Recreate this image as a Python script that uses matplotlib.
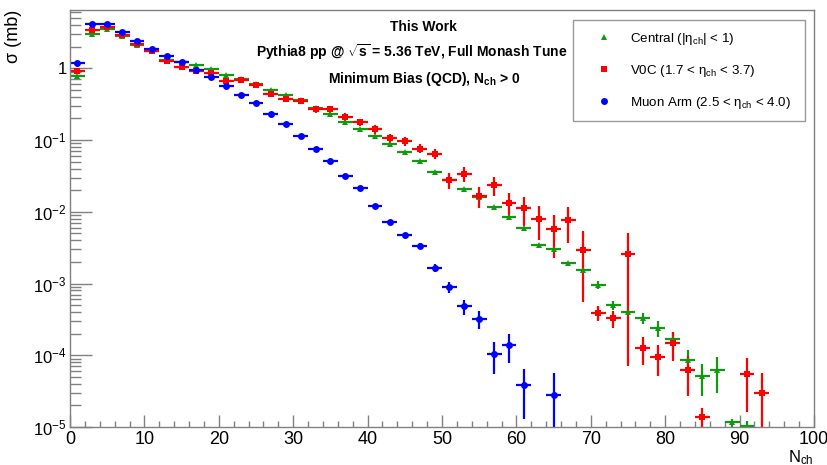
import numpy as np
import matplotlib.pyplot as plt
from matplotlib.ticker import MultipleLocator, LogLocator, FuncFormatter, NullFormatter
from matplotlib.lines import Line2D

plt.rcParams['font.family'] = ['Liberation Sans', 'DejaVu Sans']
plt.rcParams['mathtext.fontset'] = 'custom'
plt.rcParams['mathtext.rm'] = 'Liberation Sans'
plt.rcParams['mathtext.it'] = 'Liberation Sans:italic'
plt.rcParams['mathtext.bf'] = 'Liberation Sans:bold'

# bin centres (bin width 2 in N_ch)
nch = np.arange(1, 94, 2)
nan = np.nan

# Central (|eta| < 1)
central = [0.79, 3.0, 3.53, 2.8, 2.11, 1.76, 1.32, 1.24, 1.10, 0.97,
           0.81, 0.70, 0.60, 0.50, 0.425, 0.36, 0.283, 0.231, 0.181, 0.144,
           0.114, 0.0883, 0.0676, 0.0516, 0.0360, 0.0275, 0.0208, 0.0163, 0.0116, 0.00857,
           0.00603, 0.00346, 0.00304, 0.00192, 0.00155, 0.00096, 4.94e-4, 4.0e-4, 3.3e-4, 2.39e-4,
           1.68e-4, 8.65e-5, 5.07e-5, 6.3e-5, 1.16e-5, 1.02e-5, nan]
central_err = [0.005, 0.01, 0.01, 0.01, 0.008, 0.007, 0.006, 0.006, 0.005, 0.005,
               0.005, 0.004, 0.004, 0.004, 0.003, 0.003, 0.003, 0.002, 0.002, 0.002,
               0.0015, 0.0012, 0.001, 0.0009, 0.0007, 0.0006, 0.0005, 0.0004, 0.0003, 0.00025,
               0.0002, 0.00015, 0.00014, 0.0001, 0.0001, 1.2e-4, 7e-5, 4e-5, 6e-5, 5.8e-5,
               4.5e-5, 3.1e-5, 2.4e-5, 3.3e-5, 1.5e-6, 2e-6, nan]

# V0C (1.7 < eta < 3.7)
v0c = [0.92, 3.42, 3.8, 2.91, 2.16, 1.76, 1.26, 1.03, 0.93, 0.87,
       0.67, 0.69, 0.585, 0.44, 0.373, 0.354, 0.271, 0.268, 0.208, 0.177,
       0.143, 0.106, 0.097, 0.076, 0.0646, 0.0278, 0.034, 0.0168, 0.0237, 0.0134,
       0.0113, 0.0080, 0.0057, 0.0077, 0.00295, 3.9e-4, 3.3e-4, 0.00257, 1.28e-4, 9.6e-5,
       1.48e-4, 6.2e-5, 1.4e-5, nan, nan, 5.4e-5, 3.0e-5]
v0c_err = [0.02, 0.05, 0.05, 0.05, 0.04, 0.04, 0.035, 0.03, 0.03, 0.03,
           0.03, 0.03, 0.03, 0.03, 0.03, 0.03, 0.03, 0.035, 0.03, 0.022,
           0.02, 0.017, 0.014, 0.011, 0.0094, 0.007, 0.008, 0.0055, 0.007, 0.005,
           0.005, 0.004, 0.0034, 0.004, 0.0024, 9e-5, 9e-5, 0.0025, 5.4e-5, 4.5e-5,
           6.5e-5, 3.5e-5, 4.5e-6, nan, nan, 3.8e-5, 2.7e-5]

# Muon Arm (2.5 < eta < 4.0)
muon = [1.2, 4.1, 4.2, 3.17, 2.4, 1.86, 1.5, 1.21, 0.95, 0.76,
        0.57, 0.43, 0.326, 0.23, 0.168, 0.113, 0.0745, 0.0512, 0.0319, 0.0213,
        0.0121, 0.0073, 0.00472, 0.00332, 0.00166, 8.9e-4, 4.8e-4, 3.2e-4, 1.05e-4, 1.37e-4,
        3.9e-5, nan, 2.8e-5, nan, nan, nan, nan, nan, nan, nan,
        nan, nan, nan, nan, nan, nan, nan]
muon_err = [0.01, 0.02, 0.02, 0.02, 0.015, 0.012, 0.01, 0.008, 0.006, 0.005,
            0.004, 0.003, 0.0025, 0.002, 0.0015, 0.0012, 0.001, 0.0009, 0.0007, 0.0006,
            5e-4, 4.5e-4, 3.6e-4, 3e-4, 2.2e-4, 1.6e-4, 1.15e-4, 0.9e-4, 0.5e-4, 0.6e-4,
            2.6e-5, nan, 2.8e-5, nan, nan, nan, nan, nan, nan, nan,
            nan, nan, nan, nan, nan, nan, nan]

labels = ['Central (|η$_{\\rm ch}$| < 1)',
          'V0C (1.7 < η$_{\\rm ch}$ < 3.7)',
          'Muon Arm (2.5 < η$_{\\rm ch}$ < 4.0)']
colors = ['#119911', '#ff0000', '#0000ff']
markers = ['^', 's', 'o']

fig = plt.figure(figsize=(8.28, 4.65), dpi=100)
ax = fig.add_axes([70/828, 1 - 427/465, 744/828, 417/465])
ax.set_yscale('log')

for vals, errs, c, m in zip([central, v0c, muon], [central_err, v0c_err, muon_err], colors, markers):
    ax.errorbar(nch, np.array(vals, dtype=float), yerr=np.array(errs, dtype=float), xerr=1,
                fmt=m, color=c, ms=5, mew=0, elinewidth=1.6, capsize=0)

ax.set_xlim(0, 100)
ax.set_ylim(1e-5, 6.5)

# axes style (ROOT-like)
grey = '#808080'
for s in ax.spines.values():
    s.set_color(grey)
    s.set_linewidth(1)
ax.xaxis.set_major_locator(MultipleLocator(10))
ax.xaxis.set_minor_locator(MultipleLocator(2))
ax.yaxis.set_major_locator(LogLocator(base=10, numticks=10))
ax.yaxis.set_minor_locator(LogLocator(base=10, subs=np.arange(2, 10), numticks=20))
ax.yaxis.set_minor_formatter(NullFormatter())


def ylab(v, pos):
    e = int(round(np.log10(v)))
    return '1' if e == 0 else '$\\mathrm{10^{%d}}$' % e


ax.yaxis.set_major_formatter(FuncFormatter(ylab))
ax.tick_params(axis='both', which='both', direction='in', color=grey, width=1)
ax.tick_params(axis='y', which='major', length=16, pad=2.5, labelsize=12)
ax.tick_params(axis='y', which='minor', length=8)
ax.tick_params(axis='x', which='major', length=8.5, pad=3, labelsize=13)
ax.tick_params(axis='x', which='minor', length=4.3)

ax.set_ylabel('σ (mb)', loc='top', fontsize=13)
ax.yaxis.set_label_coords(-0.064, 1)
ax.set_xlabel('N$_{\\rm ch}$', loc='right', fontsize=12)
ax.xaxis.set_label_coords(1, -0.05)

# header text
ax.text(0.4745, 0.960, 'This Work', transform=ax.transAxes, ha='center', va='center',
        fontsize=10, fontweight='bold')
ax.text(0.4597, 0.898, 'Pythia8 pp @ $\\mathbf{\\sqrt{s}}$ = 5.36 TeV, Full Monash Tune',
        transform=ax.transAxes, ha='center', va='center', fontsize=10, fontweight='bold')
ax.text(0.4765, 0.834, 'Minimum Bias (QCD), N$_{\\mathbf{ch}}$ > 0', transform=ax.transAxes,
        ha='center', va='center', fontsize=10, fontweight='bold')

# legend: markers only
handles = [Line2D([], [], ls='', marker=m, color=c, ms=5, mew=0) for c, m in zip(colors, markers)]
leg = ax.legend(handles, labels, loc='upper left', bbox_to_anchor=(503/744, 1 - 10/417, 232/744, 0),
                mode='expand', borderaxespad=0, fontsize=9.6, frameon=True, fancybox=False,
                edgecolor='#999999', framealpha=1, borderpad=0.8, labelspacing=1.2,
                handlelength=3.0, handletextpad=0.5)
leg.get_frame().set_linewidth(1)

fig.savefig('out.png', dpi=100, facecolor='white')
